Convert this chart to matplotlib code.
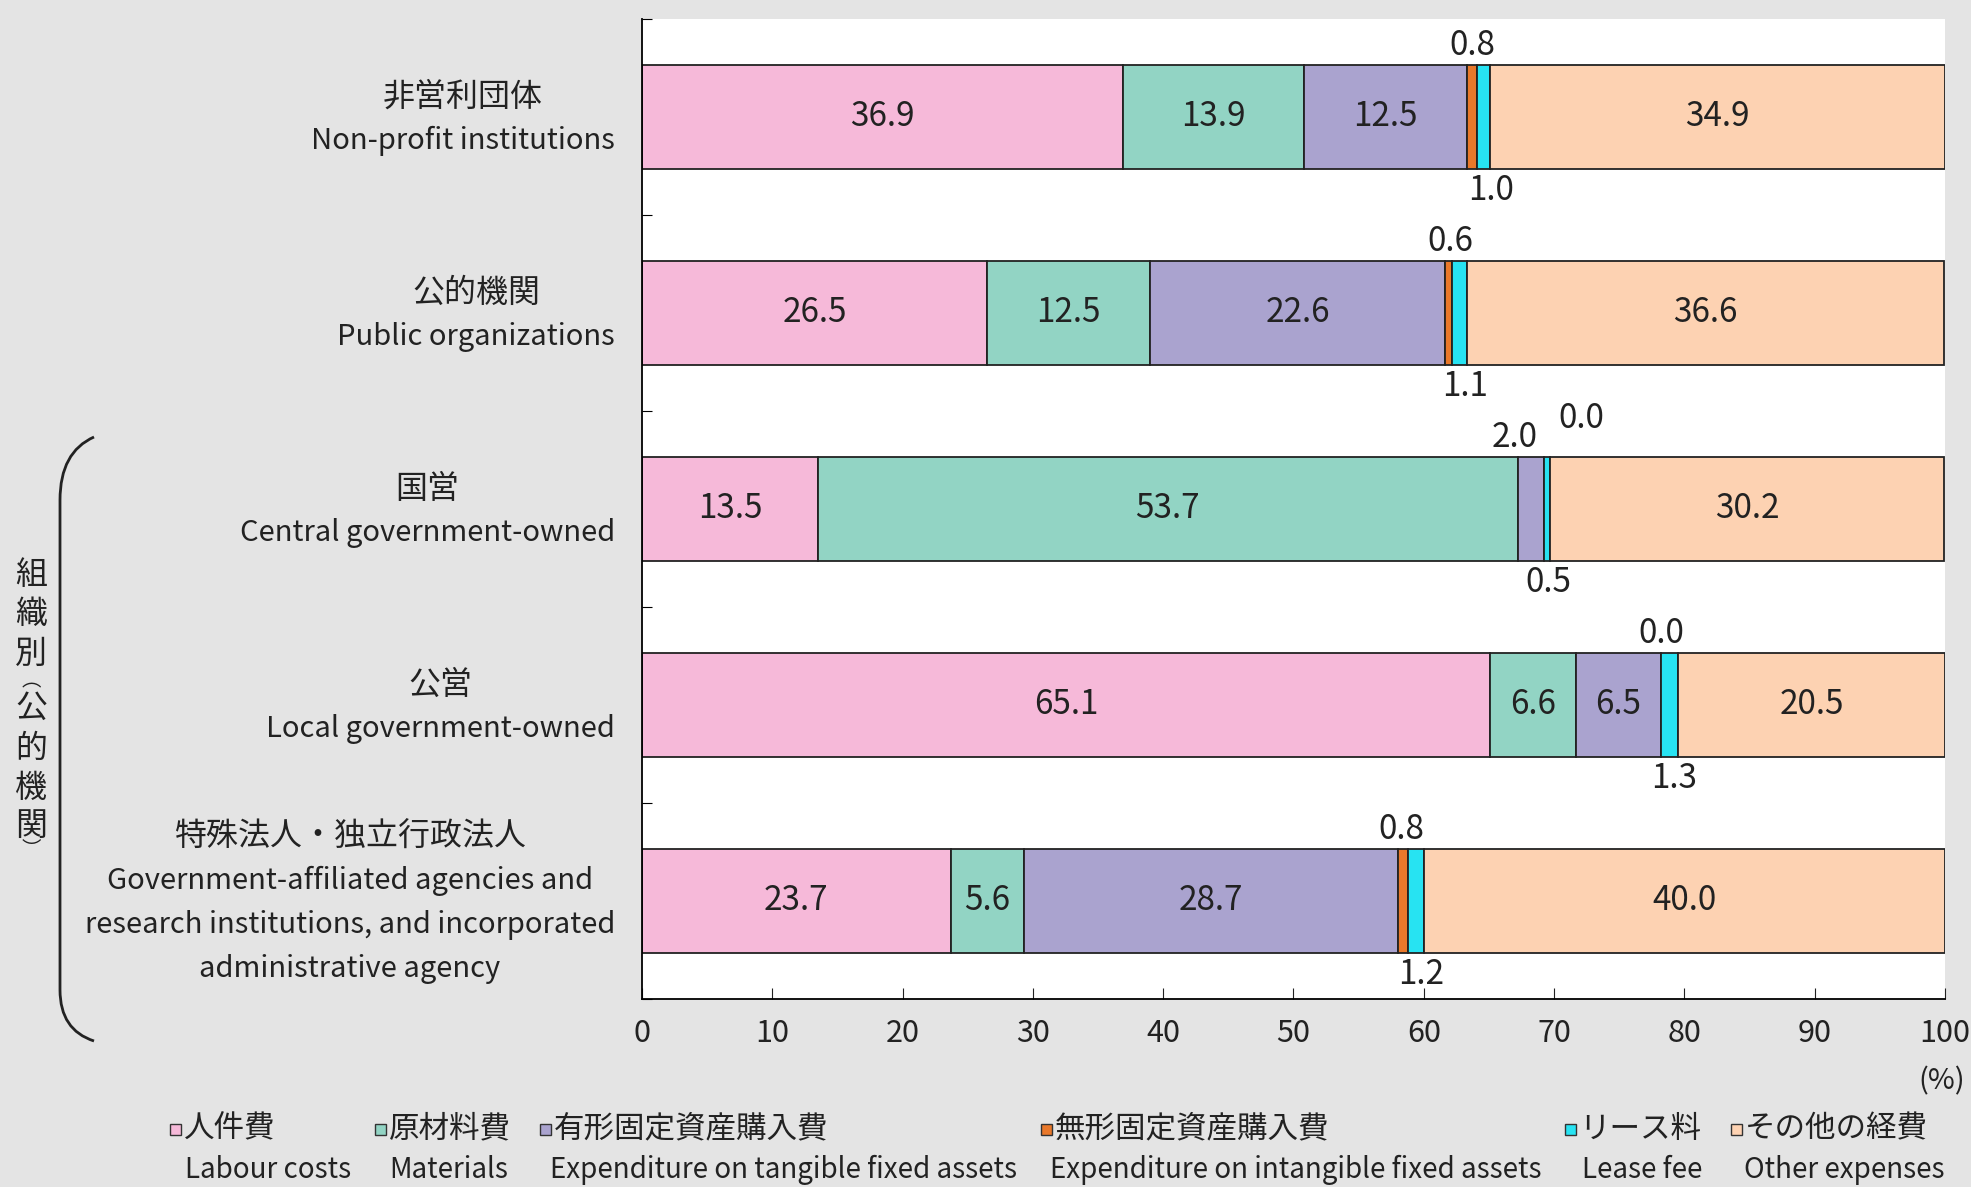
import matplotlib.pyplot as plt
from matplotlib.patches import Rectangle, PathPatch
from matplotlib.path import Path
import numpy as np

plt.rcParams['font.family'] = ['Noto Sans CJK JP', 'DejaVu Sans']

# data (%), top to bottom
cat_jp = ['非営利団体', '公的機関', '国営', '公営', '特殊法人・独立行政法人']
cat_en = ['Non-profit institutions',
          'Public organizations',
          'Central government-owned',
          'Local government-owned',
          'Government-affiliated agencies and\nresearch institutions, and incorporated\nadministrative agency']

labour = [36.9, 26.5, 13.5, 65.1, 23.7]
materials = [13.9, 12.5, 53.7, 6.6, 5.6]
tangible = [12.5, 22.6, 2.0, 6.5, 28.7]
intangible = [0.8, 0.6, 0.0, 0.0, 0.8]
lease = [1.0, 1.1, 0.5, 1.3, 1.2]
other = [34.9, 36.6, 30.2, 20.5, 40.0]

legend_jp = ['人件費', '原材料費', '有形固定資産購入費', '無形固定資産購入費', 'リース料', 'その他の経費']
legend_en = ['Labour costs', 'Materials', 'Expenditure on tangible fixed assets',
             'Expenditure on intangible fixed assets', 'Lease fee', 'Other expenses']

colors = ['#f6b9d9', '#92d4c4', '#aaa3cf', '#e9782a', '#27e3f2', '#fdd2b2']
series = [labour, materials, tangible, intangible, lease, other]
TXT = '#222222'

W, H = 1971, 1187
fig = plt.figure(figsize=(W / 100, H / 100), dpi=100, facecolor='#e4e4e4')
ax = fig.add_axes([0.3257, 0.1584, 0.6611, 0.8256])
ax.set_facecolor('white')

y = np.arange(len(cat_jp))
bar_h = 0.526
left = np.zeros(len(cat_jp))
for vals, c in zip(series, colors):
    ax.barh(y, vals, left=left, height=bar_h, color=c, edgecolor=TXT, linewidth=1.3)
    for i, v in enumerate(vals):
        if v >= 3:
            ax.text(left[i] + v / 2, y[i], f'{v:.1f}', ha='center', va='center',
                    fontsize=24, color=TXT)
    left += np.array(vals)

# small values written outside the bars: (row, series, side, x shift, extra lift)
outside = [(0, 3, 'up', 0.0, 0), (0, 4, 'down', 0.6, 0),
           (1, 3, 'up', 0.1, 0), (1, 4, 'down', 0.4, 0),
           (2, 2, 'up', -1.2, 0), (2, 3, 'up', 2.9, 0.1), (2, 4, 'down', 0.15, 0),
           (3, 3, 'up', 0.0, 0), (3, 4, 'down', 0.35, 0),
           (4, 3, 'up', -0.1, 0), (4, 4, 'down', 0.4, 0)]
for r, s, side, dx, lift in outside:
    start = sum(series[k][r] for k in range(s))
    v = series[s][r]
    xc = start + v / 2 + dx
    if side == 'up':
        yy = y[r] - bar_h / 2 - 0.1 - lift
    else:
        yy = y[r] + bar_h / 2 + 0.11
    ax.text(xc, yy, f'{v:.1f}', ha='center', va='center', fontsize=24, color=TXT)

ax.set_xlim(0, 100)
ax.set_ylim(len(cat_jp) - 0.5, -0.5)
ax.set_xticks(range(0, 101, 10))
ax.tick_params(axis='x', direction='in', length=8, labelsize=22, pad=14, colors=TXT)
ax.set_yticks(np.arange(-0.5, len(cat_jp), 1.0))
ax.set_yticklabels([])
ax.tick_params(axis='y', direction='in', length=7)
for sp in ['top', 'right']:
    ax.spines[sp].set_visible(False)
ax.spines['left'].set_linewidth(1.3)
ax.spines['bottom'].set_linewidth(1.3)

# category labels: block right-aligned, lines centred inside the block
renderer = fig.canvas.get_renderer()
x_right = 615
pitch = 0.2245
for i in range(len(cat_jp)):
    lines = [(cat_jp[i], 23)] + [(s, 21) for s in cat_en[i].split('\n')]
    objs = []
    for s, fs in lines:
        t = fig.text(0, 0, s, ha='center', va='center', fontsize=fs, color=TXT)
        objs.append(t)
    block_w = max(t.get_window_extent(renderer).width for t in objs)
    xc = (x_right - block_w / 2) / W
    n = len(objs)
    for k, t in enumerate(objs):
        dy = y[i] + (k - (n - 1) / 2) * pitch + 0.01
        py = ax.transData.transform((0, dy))[1]
        t.set_position((xc, py / H))

fig.text(1965 / W, 1 - 1081 / H, '(%)', ha='right', va='center', fontsize=21, color=TXT)

# bracket on the left
verts = [(px / W, 1 - py / H) for px, py in
         [(94, 437), (60, 452), (60, 500), (60, 990), (60, 1030), (94, 1041)]]
codes = [Path.MOVETO, Path.CURVE3, Path.CURVE3, Path.LINETO, Path.CURVE3, Path.CURVE3]
fig.patches.append(PathPatch(Path(verts, codes), transform=fig.transFigure,
                             fill=False, lw=2, color=TXT))

vchars = ['組', '織', '別', '︵', '公', '的', '機', '関', '︶']
vy = [575, 614, 654, 681, 708, 749, 788, 826, 850]
vsize = [23, 23, 23, 14, 23, 23, 23, 23, 14]
for ch, py, fs in zip(vchars, vy, vsize):
    fig.text(31 / W, 1 - py / H, ch, ha='center', va='center', fontsize=fs, color=TXT)

# legend
sq_x = [170, 375, 540, 1041, 1565, 1731]
en_x = [268, 449, 783, 1296, 1642, 1844]
for k in range(len(legend_jp)):
    fig.patches.append(Rectangle((sq_x[k] / W, 1 - 1135 / H), 11 / W, 11 / H,
                                 transform=fig.transFigure, facecolor=colors[k],
                                 edgecolor='#333333', lw=1))
    fig.text((sq_x[k] + 14) / W, 1 - 1129 / H, legend_jp[k], ha='left', va='center',
             fontsize=22, color=TXT)
    fig.text(en_x[k] / W, 1 - 1170 / H, legend_en[k], ha='center', va='center',
             fontsize=20, color=TXT)

fig.savefig('out.png', dpi=100, facecolor=fig.get_facecolor())
